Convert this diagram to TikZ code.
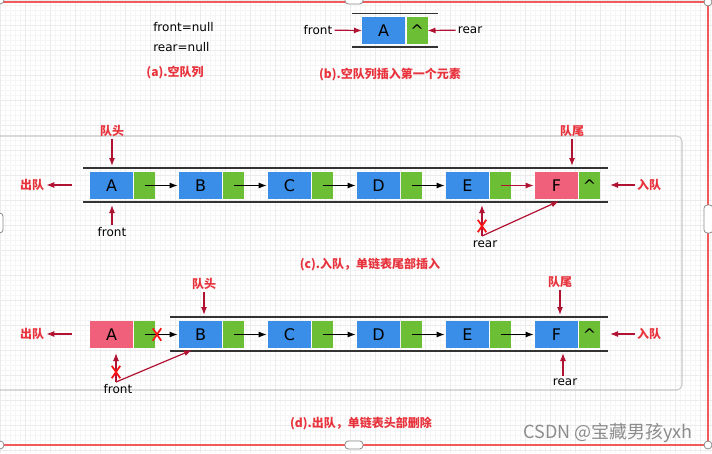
\documentclass[tikz,border=0pt]{standalone}
\usepackage{fontspec}
\setmainfont{DejaVu Sans}
\newfontfamily\cjk{Noto Sans CJK SC}
\usetikzlibrary{arrows.meta,shapes.misc}
\definecolor{qblue}{RGB}{58,142,232}
\definecolor{qgreen}{RGB}{108,190,52}
\definecolor{qred}{RGB}{240,96,122}
\definecolor{arrred}{RGB}{178,18,50}
\definecolor{txtred}{RGB}{232,50,60}
\definecolor{xred}{RGB}{250,20,20}
\definecolor{framered}{RGB}{240,90,90}
\begin{document}
\begin{tikzpicture}[x=0.75pt,y=-0.75pt,
  cell/.style={minimum height=20.25pt,inner sep=0pt,outer sep=0pt,font=\fontsize{12}{14}\selectfont,text=black},
  data/.style={cell,fill=qblue,minimum width=32.25pt},
  datared/.style={cell,fill=qred,minimum width=32.25pt},
  ptr/.style={cell,fill=qgreen,minimum width=15.75pt},
  lbl/.style={font=\fontsize{9}{10}\selectfont,inner sep=1.5pt},
  cn/.style={font=\cjk\bfseries\fontsize{9}{11}\selectfont,text=txtred,inner sep=1.5pt},
  rarr/.style={draw=arrred,line width=0.9pt,-{Latex[length=6pt,width=4.5pt]}},
  barr/.style={draw=black,line width=0.9pt,-{Latex[length=6pt,width=4.5pt]}},
  rail/.style={draw=black!80,line width=1pt},
  xm/.style={cross out,draw=xred,line width=1.3pt,minimum width=5pt,minimum height=8pt,inner sep=0pt},
  handle/.style={draw=black!45,fill=white,line width=0.6pt},
  ]
\useasboundingbox (0,0) rectangle (712,453);
\clip (0,0) rectangle (712,453);
% background grid
\fill[white] (0,0) rectangle (712,453);
\foreach \gx in {0,5,...,710} {\draw[black!4,line width=0.3pt] (\gx,0) -- (\gx,453);}
\foreach \gy in {0,5,...,450} {\draw[black!4,line width=0.3pt] (0,\gy) -- (712,\gy);}
\foreach \gx in {0,25,...,710} {\draw[black!8,line width=0.4pt] (\gx,0) -- (\gx,453);}
\foreach \gy in {0,25,...,450} {\draw[black!8,line width=0.4pt] (0,\gy) -- (712,\gy);}
% inner grey frame and red selection frame
\draw[black!22,line width=0.8pt,rounded corners=4pt] (-8,136) rectangle (682,390);
\draw[framered,line width=1pt] (-8,2) rectangle (708,445);
% handles
\draw[handle] (0,0) circle[radius=4];
\draw[handle,rounded corners=2.5pt] (345,-4) rectangle (363,4);
\draw[handle] (708,2) circle[radius=4];
\draw[handle,rounded corners=2.5pt] (704,205) rectangle (713,233);
\draw[handle,rounded corners=2.5pt] (-5,213) rectangle (3,233);
\draw[handle] (0,445) circle[radius=4];
\draw[handle,rounded corners=2.5pt] (345,441) rectangle (363,449);
\draw[handle] (708,445) circle[radius=4];

% ---------- (a) ----------
\node[lbl,anchor=west] (aFront) at (151,27) {front=null};
\node[lbl,anchor=west] (aRear) at (151,47) {rear=null};
\node[cn] (aCap) at (175,73) {(a).空队列};

% ---------- (b) ----------
\draw[rail] (352,13.5) -- (438,13.5);
\draw[rail] (352,47) -- (438,47);
\node[data] (bA) at (383.5,30.5) {A};
\node[ptr] (bAp) at (417,30.5) {\textasciicircum};
\node[lbl] (bFront) at (318,30) {front};
\node[lbl] (bRear) at (470,30) {rear};
\draw[rarr] (bFront) -- (bA.west);
\draw[rarr] (bRear) -- (bAp.east);
\node[cn] (bCap) at (390,75) {(b).空队列插入第一个元素};

% ---------- (c) ----------
\draw[rail] (83,168) -- (608,168);
\draw[rail] (83,202) -- (608,202);
\foreach \n [count=\i from 0] in {A,B,C,D,E} {
  \node[data] (c\n) at ({111.5+89*\i},185.5) {\n};
  \node[ptr] (c\n p) at ({144.5+89*\i},185.5) {};
}
\node[datared] (cF) at (556.5,185.5) {F};
\node[ptr] (cFp) at (589.5,185.5) {\textasciicircum};
\foreach \a/\b in {A/B,B/C,C/D,D/E} {\draw[barr,shorten >=1pt] (c\a p.center) -- (c\b.west);}
\draw[rarr,shorten >=1pt] (cEp.center) -- (cF.west);
\node[cn] (cHead) at (112,131) {队头};
\coordinate (cHeadTip) at (112,166);
\draw[rarr] (cHead) -- (cHeadTip);
\node[lbl] (cFront) at (112,232) {front};
\coordinate (cFrontTip) at (112,205);
\draw[rarr] (cFront) -- (cFrontTip);
\node[cn] (cOut) at (32,185) {出队};
\coordinate (cOutStart) at (72,185);
\draw[rarr] (cOutStart) -- (cOut);
\node[cn] (cTail) at (572,131) {队尾};
\coordinate (cTailTip) at (572,166);
\draw[rarr] (cTail) -- (cTailTip);
\node[cn] (cIn) at (649,185) {入队};
\coordinate (cInTip) at (610,185);
\draw[rarr] (cIn) -- (cInTip);
\node[lbl] (cRear) at (485,244) {rear};
\coordinate (cRearTop) at (482,236);
\coordinate (cRearTip) at (482,205);
\coordinate (cRearNew) at (559,201);
\draw[rarr] (cRearTop) -- (cRearTip);
\draw[rarr] (cRearTop) -- (cRearNew);
\node[xm] (cX) at (482,226) {};
\node[cn] (cCap) at (370,265) {(c).入队，单链表尾部插入};

% ---------- (d) ----------
\draw[rail] (170,317) -- (608,317);
\draw[rail] (170,351) -- (608,351);
\node[datared] (dA) at (111.5,334.5) {A};
\node[ptr] (dAp) at (144.5,334.5) {};
\foreach \n [count=\i from 1] in {B,C,D,E,F} {
  \node[data] (d\n) at ({111.5+89*\i},334.5) {\n};
}
\foreach \n [count=\i from 1] in {B,C,D,E} {
  \node[ptr] (d\n p) at ({144.5+89*\i},334.5) {};
}
\node[ptr] (dFp) at (589.5,334.5) {\textasciicircum};
\foreach \a/\b in {A/B,B/C,C/D,D/E,E/F} {\draw[barr,shorten >=1pt] (d\a p.center) -- (d\b.west);}
\node[xm] (dX1) at (157,334.5) {};
\node[cn] (dHead) at (204,284) {队头};
\coordinate (dHeadTip) at (204,315);
\draw[rarr] (dHead) -- (dHeadTip);
\node[cn] (dTail) at (560,282) {队尾};
\coordinate (dTailTip) at (560,315);
\draw[rarr] (dTail) -- (dTailTip);
\node[cn] (dOut) at (32,334) {出队};
\coordinate (dOutStart) at (72,334);
\draw[rarr] (dOutStart) -- (dOut);
\node[cn] (dIn) at (649,334) {入队};
\coordinate (dInTip) at (610,334);
\draw[rarr] (dIn) -- (dInTip);
\node[lbl] (dRear) at (565,382) {rear};
\coordinate (dRearTip) at (563,353);
\draw[rarr] (dRear.north -| dRearTip) -- (dRearTip);
\node[lbl] (dFront) at (118,389) {front};
\coordinate (dFrontTop) at (116,382);
\coordinate (dFrontTip) at (116,353);
\coordinate (dFrontNew) at (192,350);
\draw[rarr] (dFrontTop) -- (dFrontTip);
\draw[rarr] (dFrontTop) -- (dFrontNew);
\node[xm] (dX2) at (116,372) {};
\node[cn] (dCap) at (361,424) {(d).出队，单链表头部删除};

% watermark
\node[font=\cjk\fontsize{13.5}{15}\selectfont,text=black!45] (wm) at (608,433) {CSDN @宝藏男孩yxh};
\end{tikzpicture}
\end{document}
